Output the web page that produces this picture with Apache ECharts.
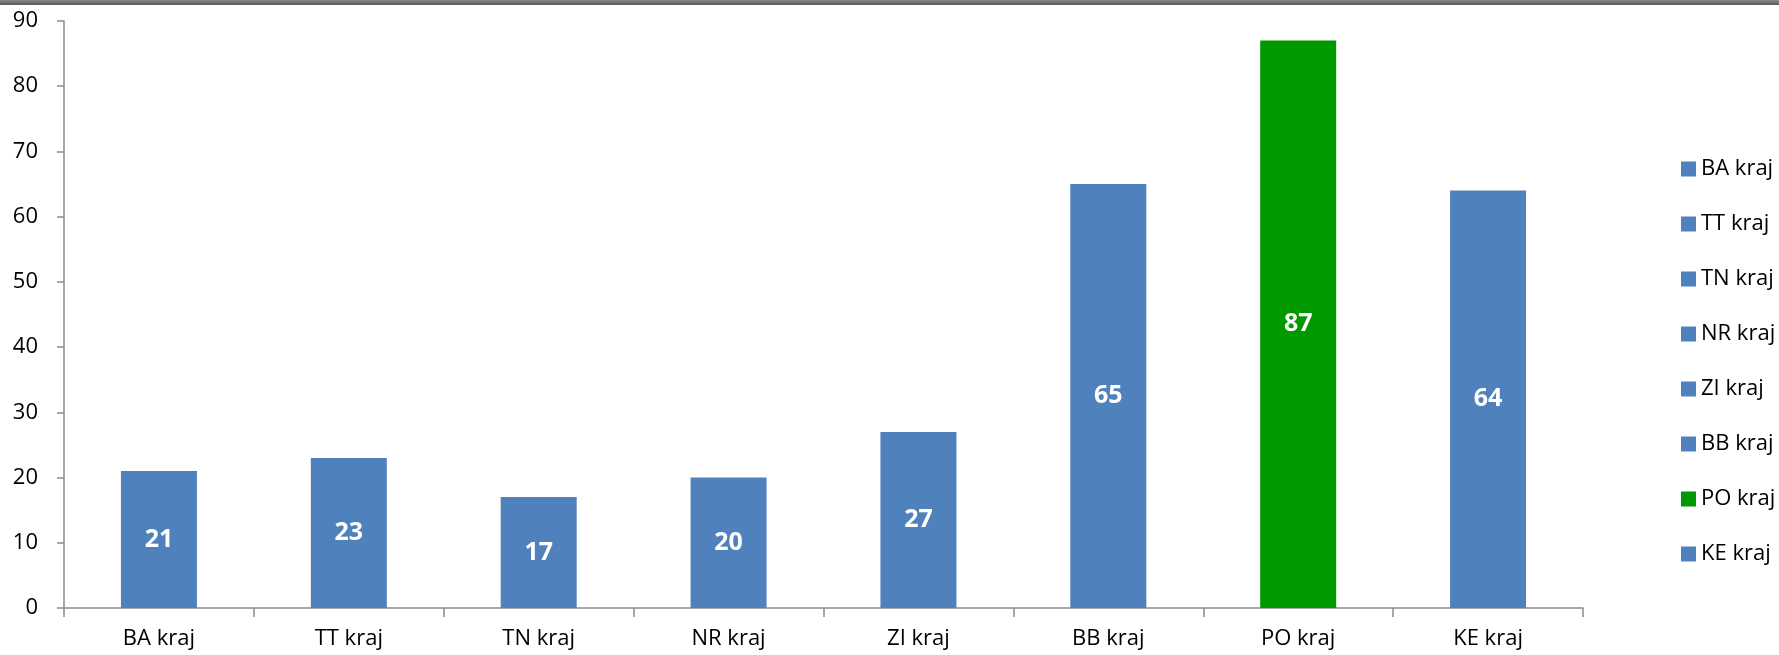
<!DOCTYPE html>
<html>
<head>
<meta charset="utf-8">
<script src="https://cdn.jsdelivr.net/npm/echarts@6/dist/echarts.min.js"></script>
<style>
html,body{margin:0;padding:0;background:#fff;}
#chart{width:1779px;height:655px;}
</style>
</head>
<body>
<div id="chart"></div>
<script>
const categories = ['BA kraj','TT kraj','TN kraj','NR kraj','ZI kraj','BB kraj','PO kraj','KE kraj'];
const values = [21, 23, 17, 20, 27, 65, 87, 64];
const colors = ['#4F81BD','#4F81BD','#4F81BD','#4F81BD','#4F81BD','#4F81BD','#009900','#4F81BD'];
const yTicks = [0,10,20,30,40,50,60,70,80,90];

const FONT = '"Open Sans", "Noto Sans", sans-serif';

const series = categories.map((name, i) => ({
  name: name,
  type: 'bar',
  stack: 'all',
  barWidth: 76,
  itemStyle: { color: colors[i] },
  label: {
    show: true,
    position: 'inside',
    color: '#fff',
    fontWeight: 'bold',
    fontSize: 25,
    fontFamily: FONT
  },
  data: categories.map((c, j) => j === i ? values[i] : '-')
}));

const chart = echarts.init(document.getElementById('chart'));
chart.setOption({
  animation: false,
  backgroundColor: '#fff',
  graphic: [{
    type: 'rect',
    left: 0, top: 0,
    shape: { width: 1779, height: 5 },
    style: {
      fill: new echarts.graphic.LinearGradient(0,0,0,1,[
        {offset:0,color:'#8a8a8a'},{offset:1,color:'#5a5a5a'}
      ])
    }
  }],
  grid: { left: 64, right: 196, top: 21, bottom: 47, containLabel: false },
  legend: {
    orient: 'vertical',
    left: 1676,
    top: 153,
    itemWidth: 15,
    itemHeight: 15,
    itemGap: 33,
    icon: 'rect',
    textStyle: { fontSize: 22, color: '#000', fontFamily: FONT, padding: [0,0,0,0] },
    data: categories
  },
  xAxis: {
    type: 'category',
    data: categories,
    axisLine: { lineStyle: { color: '#8c8c8c', width: 1.5 } },
    axisTick: { show: true, length: 9, alignWithLabel: false, lineStyle: { color: '#8c8c8c', width: 1.5 } },
    axisLabel: { fontSize: 22, color: '#000', fontFamily: FONT, margin: 20 }
  },
  yAxis: {
    type: 'value',
    min: yTicks[0],
    max: yTicks[yTicks.length-1],
    interval: 10,
    splitLine: { show: false },
    axisLine: { show: true, lineStyle: { color: '#8c8c8c', width: 1.5 } },
    axisTick: { show: true, length: 7, lineStyle: { color: '#8c8c8c', width: 1.5 } },
    axisLabel: { fontSize: 22, color: '#000', fontFamily: FONT, margin: 26 }
  },
  series: series
});
</script>
</body>
</html>
